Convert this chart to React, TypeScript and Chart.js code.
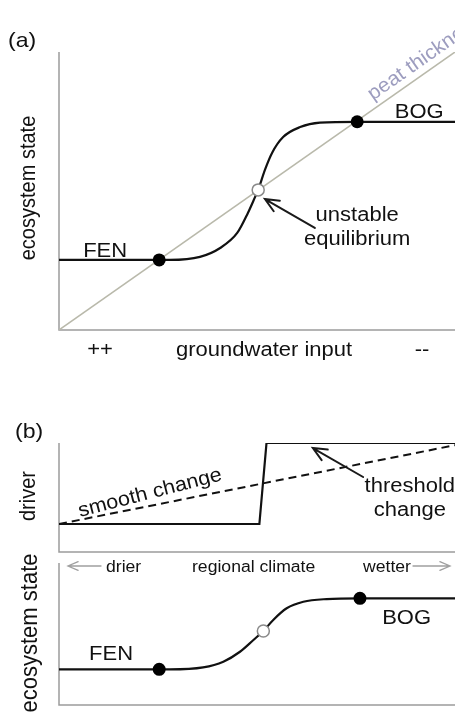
import { useEffect, useRef } from 'react';
import { Chart, registerables } from 'chart.js';
Chart.register(...registerables);

const W = 455;
const H = 713;
const FONT = '"Liberation Sans", Arial, Helvetica, sans-serif';

// ---------- Panel (a): ecosystem state vs groundwater input ----------
const peatX = [0, 100];
const peatY = [0, 100];
const bogFenX = [0, 28, 35.6, 40.7, 45, 47.7, 49.5, 50.3, 52, 53.8, 56.6, 60.9, 65.9, 75.3, 100];
const bogFenY = [25.2, 25.2, 26.3, 29.5, 34.9, 42.1, 47.8, 50.4, 57.6, 63.7, 69.4, 73, 74.6, 74.9, 74.9];
const stableAX = [25.3, 75.3];
const stableAY = [25.2, 74.9];
const unstableAX = [50.3];
const unstableAY = [50.4];
const axisLabelsA = ['++', 'groundwater input', '--'];

// ---------- Panel (b) top: driver ----------
const thresholdX = [0, 50.6, 52.4, 100];
const thresholdY = [25.7, 25.7, 100, 100];
const smoothX = [0, 100];
const smoothY = [25.7, 98];
const climateLabels = ['drier', 'regional climate', 'wetter'];

// ---------- Panel (b) bottom: ecosystem state ----------
const climateX = [0, 28, 36.4, 41.5, 45.7, 49.1, 51.6, 54.1, 57.5, 61.7, 67.6, 76, 100];
const climateY = [25.1, 25.1, 26.5, 30.5, 37.5, 45.8, 52.1, 59.9, 68.1, 72.7, 74.6, 75.1, 75.1];
const stableBX = [25.3, 76];
const stableBY = [25.1, 75.1];
const unstableBX = [51.6];
const unstableBY = [52.1];

const pts = (xs: number[], ys: number[]) => xs.map((x, i) => ({ x, y: ys[i] }));

type TextOpts = {
  size?: number;
  align?: CanvasTextAlign;
  baseline?: CanvasTextBaseline;
  color?: string;
  angle?: number;
  sx?: number;
  sy?: number;
};

function drawText(ctx: CanvasRenderingContext2D, s: string, x: number, y: number, o: TextOpts = {}) {
  const { size = 20, align = 'left', baseline = 'alphabetic', color = '#111', angle = 0, sx = 1.1, sy = 1 } = o;
  ctx.save();
  ctx.translate(x, y);
  ctx.rotate(angle);
  ctx.scale(sx, sy);
  ctx.font = `${size}px ${FONT}`;
  ctx.textAlign = align;
  ctx.textBaseline = baseline;
  ctx.fillStyle = color;
  ctx.fillText(s, 0, 0);
  ctx.restore();
}

function drawArrow(
  ctx: CanvasRenderingContext2D,
  x1: number, y1: number, x2: number, y2: number,
  color = '#1a1a1a', width = 2, head = 15, spread = 0.42
) {
  const a = Math.atan2(y2 - y1, x2 - x1);
  ctx.save();
  ctx.strokeStyle = color;
  ctx.lineWidth = width;
  ctx.lineCap = 'round';
  ctx.beginPath();
  ctx.moveTo(x1, y1);
  ctx.lineTo(x2, y2);
  ctx.moveTo(x2 - head * Math.cos(a - spread), y2 - head * Math.sin(a - spread));
  ctx.lineTo(x2, y2);
  ctx.lineTo(x2 - head * Math.cos(a + spread), y2 - head * Math.sin(a + spread));
  ctx.stroke();
  ctx.restore();
}

type Area = { left: number; top: number; right: number; bottom: number };

function makeConfig(area: Area, datasets: any[], annotate: (chart: any) => void): any {
  return {
    type: 'line',
    data: { datasets },
    options: {
      animation: false,
      responsive: false,
      maintainAspectRatio: false,
      events: [],
      layout: {
        autoPadding: false,
        padding: { left: area.left, top: area.top, right: W - area.right, bottom: H - area.bottom },
      },
      plugins: { legend: { display: false }, tooltip: { enabled: false }, title: { display: false } },
      scales: {
        x: { type: 'linear', min: 0, max: 100, display: false },
        y: { type: 'linear', min: 0, max: 100, display: false },
      },
      elements: { point: { radius: 0 }, line: { tension: 0 } },
    },
    plugins: [
      {
        id: 'frame',
        beforeDatasetsDraw(chart: any) {
          const { ctx, chartArea } = chart;
          ctx.save();
          ctx.strokeStyle = '#9c9c9c';
          ctx.lineWidth = 1.5;
          ctx.beginPath();
          ctx.moveTo(chartArea.left, chartArea.top);
          ctx.lineTo(chartArea.left, chartArea.bottom);
          ctx.lineTo(chartArea.right, chartArea.bottom);
          ctx.stroke();
          ctx.restore();
        },
        afterDraw(chart: any) {
          annotate(chart);
        },
      },
    ],
  };
}

const curveStyle = {
  borderColor: '#111',
  borderWidth: 2.2,
  pointRadius: 0,
  cubicInterpolationMode: 'monotone',
  order: 2,
};
const stableStyle = {
  showLine: false,
  pointRadius: 6.5,
  pointBackgroundColor: '#000',
  pointBorderColor: '#000',
  pointBorderWidth: 0,
  order: 0,
};
const unstableStyle = {
  showLine: false,
  pointRadius: 6,
  pointBackgroundColor: '#fff',
  pointBorderColor: '#8a8a8a',
  pointBorderWidth: 1.5,
  order: 0,
};

function configA(): any {
  const datasets = [
    { data: pts(peatX, peatY), borderColor: '#b9b9ab', borderWidth: 1.5, pointRadius: 0, order: 3 },
    { data: pts(bogFenX, bogFenY), ...curveStyle },
    { data: pts(stableAX, stableAY), ...stableStyle },
    { data: pts(unstableAX, unstableAY), ...unstableStyle },
  ];
  return makeConfig({ left: 59, top: 52, right: 455, bottom: 330 }, datasets, (chart) => {
    const { ctx } = chart;
    const sx = chart.scales.x;
    const sy = chart.scales.y;
    const px = (v: number) => sx.getPixelForValue(v);
    const py = (v: number) => sy.getPixelForValue(v);
    drawText(ctx, '(a)', 8, 47, { size: 21 });
    drawText(ctx, 'ecosystem state', 35, 188, { angle: -Math.PI / 2, align: 'center', sx: 1, sy: 1.1 });
    drawText(ctx, axisLabelsA[0], 100, 356, { align: 'center' });
    drawText(ctx, axisLabelsA[1], 176, 356);
    drawText(ctx, axisLabelsA[2], 422, 356, { align: 'center' });
    drawText(ctx, 'FEN', px(6.1), py(26.3));
    drawText(ctx, 'BOG', px(84.8), py(76.3));
    drawText(ctx, 'unstable', px(75.3), py(39.2), { align: 'center' });
    drawText(ctx, 'equilibrium', px(75.3), py(30.6), { align: 'center' });
    drawArrow(ctx, px(64.6), py(36.7), px(52), py(47.1), '#1a1a1a', 2, 15, 0.42);
    const ang = Math.atan2(py(100) - py(0), px(100) - px(0));
    drawText(ctx, 'peat thickness', px(79.3), py(82.5), { angle: ang, color: '#9d9dbf', size: 20, sx: 1.05 });
  });
}

function configB(): any {
  const datasets = [
    { data: pts(thresholdX, thresholdY), borderColor: '#111', borderWidth: 2.2, pointRadius: 0, order: 1 },
    { data: pts(smoothX, smoothY), borderColor: '#111', borderWidth: 2, borderDash: [8, 5], pointRadius: 0, order: 2 },
  ];
  return makeConfig({ left: 59, top: 443, right: 455, bottom: 552 }, datasets, (chart) => {
    const { ctx } = chart;
    const sx = chart.scales.x;
    const sy = chart.scales.y;
    const px = (v: number) => sx.getPixelForValue(v);
    const py = (v: number) => sy.getPixelForValue(v);
    drawText(ctx, '(b)', 15, 438, { size: 21 });
    drawText(ctx, 'driver', 35, 496, { angle: -Math.PI / 2, align: 'center', sx: 1, sy: 1.1 });
    drawText(ctx, 'smooth change', px(5.3), py(32.1), { angle: -0.253, size: 20, sx: 1.08 });
    drawText(ctx, 'threshold', px(88.6), py(55), { align: 'center' });
    drawText(ctx, 'change', px(88.6), py(33), { align: 'center' });
    drawArrow(ctx, px(76.8), py(68.8), px(64.1), py(95.4), '#1a1a1a', 2, 15, 0.42);
    // climate axis labels
    drawText(ctx, climateLabels[0], 106, 572, { size: 16 });
    drawText(ctx, climateLabels[1], 192, 572, { size: 16 });
    drawText(ctx, climateLabels[2], 363, 572, { size: 16 });
    drawArrow(ctx, 101, 566, 68, 566, '#a0a0a0', 1.3, 11, 0.4);
    drawArrow(ctx, 413, 566, 450, 566, '#a0a0a0', 1.3, 11, 0.4);
  });
}

function configC(): any {
  const datasets = [
    { data: pts(climateX, climateY), ...curveStyle },
    { data: pts(stableBX, stableBY), ...stableStyle },
    { data: pts(unstableBX, unstableBY), ...unstableStyle },
  ];
  return makeConfig({ left: 59, top: 563, right: 455, bottom: 705 }, datasets, (chart) => {
    const { ctx } = chart;
    const sx = chart.scales.x;
    const sy = chart.scales.y;
    const px = (v: number) => sx.getPixelForValue(v);
    const py = (v: number) => sy.getPixelForValue(v);
    drawText(ctx, 'ecosystem state', 37, 633, { angle: -Math.PI / 2, align: 'center', size: 22, sx: 1, sy: 1.05 });
    drawText(ctx, 'FEN', px(7.6), py(31.7));
    drawText(ctx, 'BOG', px(81.6), py(57));
  });
}

export default function App() {
  const refA = useRef<HTMLCanvasElement>(null);
  const refB = useRef<HTMLCanvasElement>(null);
  const refC = useRef<HTMLCanvasElement>(null);

  useEffect(() => {
    const charts: Chart[] = [];
    if (refA.current) charts.push(new Chart(refA.current, configA()));
    if (refB.current) charts.push(new Chart(refB.current, configB()));
    if (refC.current) charts.push(new Chart(refC.current, configC()));
    return () => charts.forEach((c) => c.destroy());
  }, []);

  const cs: React.CSSProperties = { position: 'absolute', left: 0, top: 0, width: W, height: H };
  return (
    <div style={{ position: 'absolute', left: 0, top: 0, width: W, height: H, background: '#fff' }}>
      <canvas ref={refA} width={W} height={H} style={cs} />
      <canvas ref={refB} width={W} height={H} style={cs} />
      <canvas ref={refC} width={W} height={H} style={cs} />
    </div>
  );
}
